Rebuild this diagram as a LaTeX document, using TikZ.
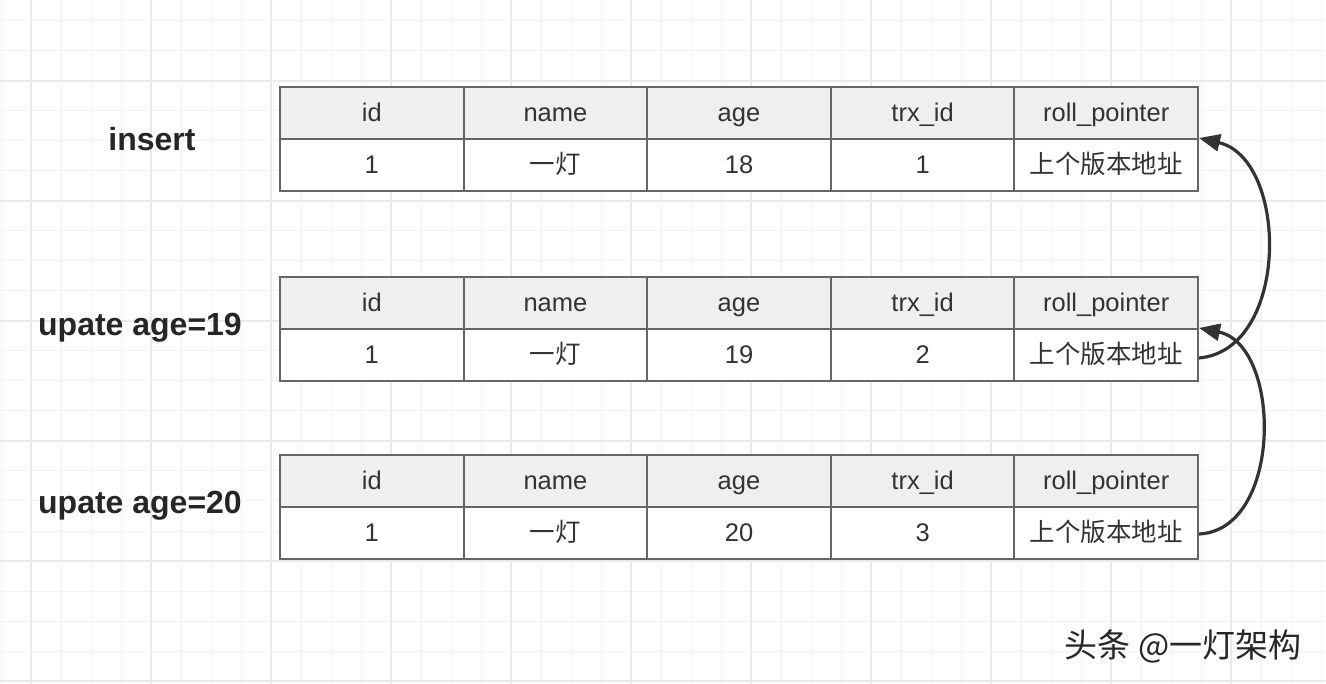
\documentclass[tikz,border=0pt]{standalone}
\usepackage{fontspec}
\setmainfont{Liberation Sans}
\newfontfamily\cjk{Noto Sans CJK SC}
\usetikzlibrary{arrows.meta}
\definecolor{gminor}{HTML}{F3F3F3}
\definecolor{gmajor}{HTML}{EAEAEA}
\definecolor{cellline}{HTML}{666666}
\definecolor{headfill}{HTML}{EFEFEF}
\definecolor{txt}{HTML}{333333}
\tikzset{
  minorgrid/.style={gminor,line width=1pt},
  majorgrid/.style={gmajor,line width=1.8pt},
  cellbase/.style={draw=cellline,line width=2pt,minimum width=183.6pt,minimum height=52pt,inner sep=0pt,text=txt,text height=18pt,text depth=1pt,font=\fontsize{25.5}{28}\selectfont},
  hcell/.style={cellbase,fill=headfill},
  dcell/.style={cellbase,fill=white},
  lbl/.style={font=\bfseries\fontsize{32}{36}\selectfont,text=black!85},
  ptr/.style={draw=txt,line width=3.2pt,-{Triangle[length=21pt,width=17pt]}},
  wmark/.style={font=\cjk\fontsize{33}{36}\selectfont,text=black!85}
}
\begin{document}
\begin{tikzpicture}[x=1pt,y=-1pt]
\useasboundingbox (0,0) rectangle (1326,684);
\fill[white] (0,0) rectangle (1326,684);
% grid
\foreach \gx in {1,31,...,1321} {\draw[minorgrid] (\gx,0) -- (\gx,684);}
\foreach \gy in {21,51,...,681} {\draw[minorgrid] (0,\gy) -- (1326,\gy);}
\foreach \gx in {31,151,...,1311} {\draw[majorgrid] (\gx,0) -- (\gx,684);}
\foreach \gy in {81,201,...,681} {\draw[majorgrid] (0,\gy) -- (1326,\gy);}
% tables
\foreach \tb/\ty/\ag/\tr in {1/87/18/1,2/277/19/2,3/455/20/3}{
  \foreach \ci/\hd/\vl in {1/id/1, 2/name/{\cjk 一灯}, 3/age/\ag, 4/trx\_id/\tr, 5/roll\_pointer/{\cjk 上个版本地址}}{
    \node[hcell] (t\tb h\ci) at ({280+183.6*(\ci-0.5)}, \ty+26) {\hd};
    \node[dcell] (t\tb d\ci) at ({280+183.6*(\ci-0.5)}, \ty+78) {\vl};
  }
}
% labels
\node[lbl] (l1) at (152,139) {insert};
\node[lbl] (l2) at (140,328) {upate age=19};
\node[lbl] (l3) at (140,506) {upate age=20};
% pointers
\draw[ptr] ([yshift=-3pt]t2d5.east) .. controls +(91,-8) and +(90,21) .. (t1d5.north east);
\draw[ptr] ([yshift=-1pt]t3d5.east) .. controls +(84,-4) and +(83,17) .. (t2d5.north east);
% watermark
\node[wmark] (wm) at (1183,646) {头条 @一灯架构};
\end{tikzpicture}
\end{document}
